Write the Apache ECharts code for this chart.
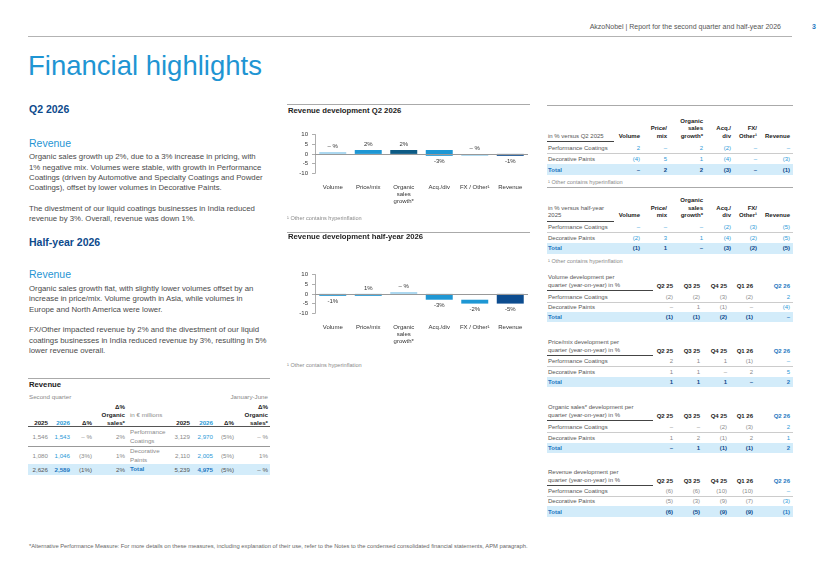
<!DOCTYPE html>
<html>
<head>
<meta charset="utf-8">
<title>Financial highlights</title>
<script src="https://cdn.jsdelivr.net/npm/echarts@6/dist/echarts.min.js"></script>
<style>
  body { margin: 0; background: #fff; }
  #page {
    position: relative; width: 820px; height: 580px; overflow: hidden;
    font-family: 'Liberation Sans', Arial, sans-serif; color: #4a4a4a;
  }
  .t { position: absolute; white-space: nowrap; }
  .rule { position: absolute; height: 0; }
  .band { position: absolute; background: #d3ecfa; }
  .chart { position: absolute; width: 250px; height: 100px; }
</style>
</head>
<body>
<div id="page">
  <div id="wfQ2" class="chart" style="left:285px;top:120px"></div>
  <div id="wfHy" class="chart" style="left:285px;top:260px"></div>
</div>
<script>
// ---- waterfall charts ----
const wfCategories = ['Volume', 'Price/mix', 'Organic\nsales\ngrowth*', 'Acq./div', 'FX / Other¹', 'Revenue']
const wfTotals = [false, false, true, false, false, true]
const q2Steps = [0, 2, 2, -3, 0, -1]
const hySteps = [-1, 1, 0, -3, -2, -5]

// ---- component tables (in %) ----
const compColumns = ['Volume', 'Price/\nmix', 'Organic\nsales\ngrowth*', 'Acq./\ndiv', 'FX/\nOther¹', 'Revenue']
const segments = ['Performance Coatings', 'Decorative Paints', 'Total']
const q2Pc = [2, 0, 2, -2, 0, 0]
const q2Dp = [-4, 5, 1, -4, 0, -3]
const q2Total = [0, 2, 2, -3, 0, -1]
const hyPc = [0, 0, 0, -2, -3, -5]
const hyDp = [-2, 3, 1, -4, -2, -5]
const hyTotal = [-1, 1, 0, -3, -2, -5]

// ---- quarterly tables (year-on-year, in %) ----
const quarters = ['Q2 25', 'Q3 25', 'Q4 25', 'Q1 26', 'Q2 26']
const volPc = [-2, -2, -3, -2, 2]
const volDp = [0, 1, -1, 0, -4]
const volTotal = [-1, -1, -2, -1, 0]
const pmPc = [2, 1, 1, -1, 0]
const pmDp = [1, 1, 0, 2, 5]
const pmTotal = [1, 1, 1, 0, 2]
const orgPc = [0, 0, -2, -3, 2]
const orgDp = [1, 2, -1, 2, 1]
const orgTotal = [0, 1, -1, -1, 2]
const revPc = [-6, -6, -10, -10, 0]
const revDp = [-5, -3, -9, -7, -3]
const revTotal = [-6, -5, -9, -9, -1]

// ---- revenue table (in € millions) ----
const revLabels = ['Performance\nCoatings', 'Decorative\nPaints', 'Total']
const q2Sales2025 = [1546, 1080, 2626]
const q2Sales2026 = [1543, 1046, 2589]
const q2SalesChange = [0, -3, -1]
const q2SalesOrganic = [2, 1, 2]
const hySales2025 = [3129, 2110, 5239]
const hySales2026 = [2970, 2005, 4975]
const hySalesChange = [-5, -5, -5]
const hySalesOrganic = [0, 1, 0]

const FONT = "'Liberation Sans', Arial, sans-serif"
const BLUE = '#1f95d3'
const NAVY = '#0d4a8c'
const VAL_BLUE = '#2b9ad7'
const TOTAL_BLUE = '#1f78c1'
const GREY = '#8a8a8a'

const page = document.getElementById('page')

const fmtPct = v => v === 0 ? '– %' : v < 0 ? '(' + (-v) + '%)' : v + '%'
const fmtNum = v => v === 0 ? '–' : v < 0 ? '(' + (-v) + ')' : String(v)
const fmtEur = v => v.toLocaleString('en-US')

// put text; y is the centre of the (last, or middle) line
function put(x, y, s, o = {}) {
  const lh = o.lh || 8
  const lines = String(s).split('\n')
  const d = document.createElement('div')
  d.className = 't'
  d.innerHTML = lines.join('<br>')
  let top = y - lh / 2
  if (o.up) top -= (lines.length - 1) * lh
  if (o.mid) top -= (lines.length - 1) * lh / 2
  d.style.top = top + 'px'
  d.style.lineHeight = lh + 'px'
  if (o.right) { d.style.right = (820 - x) + 'px'; d.style.textAlign = 'right' } else d.style.left = x + 'px'
  d.style.fontSize = (o.size || 6) + 'px'
  d.style.fontWeight = o.bold ? 'bold' : 'normal'
  d.style.color = o.color || '#4a4a4a'
  page.appendChild(d)
}
function rule(x1, x2, y, color, w) {
  const d = document.createElement('div')
  d.className = 'rule'
  Object.assign(d.style, { left: x1 + 'px', width: (x2 - x1) + 'px', top: y + 'px', borderTop: (w || 1) + 'px solid ' + color })
  page.appendChild(d)
}
function band(x1, x2, y1, y2) {
  const d = document.createElement('div')
  d.className = 'band'
  Object.assign(d.style, { left: x1 + 'px', width: (x2 - x1) + 'px', top: y1 + 'px', height: (y2 - y1) + 'px' })
  page.appendChild(d)
}

// ---- page header ----
put(781, 27, 'AkzoNobel | Report for the second quarter and half-year 2026', { right: true, size: 7, color: '#555' })
put(812, 27, '3', { size: 7, bold: true, color: TOTAL_BLUE })
rule(28, 792, 36, '#b3b3b3', 1.5)
put(28, 66, 'Financial highlights', { size: 27.5, lh: 32, color: BLUE })

// ---- left text column ----
const para = { size: 7.8, lh: 10.3, color: '#4a4a4a' }
put(29, 108.5, 'Q2 2026', { size: 10.5, lh: 12, bold: true, color: NAVY })
put(29, 142.7, 'Revenue', { size: 10.5, lh: 12, color: BLUE })
put(29, 157.5, 'Organic sales growth up 2%, due to a 3% increase in pricing, with\n1% negative mix. Volumes were stable, with growth in Performance\nCoatings (driven by Automotive and Specialty Coatings and Powder\nCoatings), offset by lower volumes in Decorative Paints.', para)
put(29, 208.7, 'The divestment of our liquid coatings businesses in India reduced\nrevenue by 3%. Overall, revenue was down 1%.', para)
put(29, 241.5, 'Half-year 2026', { size: 10.5, lh: 12, bold: true, color: NAVY })
put(29, 274.3, 'Revenue', { size: 10.5, lh: 12, color: BLUE })
put(29, 289.3, 'Organic sales growth flat, with slightly lower volumes offset by an\nincrease in price/mix. Volume growth in Asia, while volumes in\nEurope and North America were lower.', para)
put(29, 330.5, 'FX/Other impacted revenue by 2% and the divestment of our liquid\ncoatings businesses in India reduced revenue by 3%, resulting in 5%\nlower revenue overall.', para)

// ---- revenue table ----
rule(28, 270, 378, '#aaa', 1.5)
put(29, 384.5, 'Revenue', { size: 7.7, bold: true, color: '#222' })
put(29, 397, 'Second quarter', { size: 6.2, color: GREY })
put(268, 397, 'January-June', { right: true, size: 6.2, color: GREY })
const revCols = [
  { x: 48, head: '2025', vals: q2Sales2025.map(fmtEur), color: GREY },
  { x: 70, head: '2026', vals: q2Sales2026.map(fmtEur), color: VAL_BLUE, headColor: VAL_BLUE },
  { x: 92, head: 'Δ%', vals: q2SalesChange.map(fmtPct), color: GREY },
  { x: 125, head: 'Δ%\nOrganic\nsales*', vals: q2SalesOrganic.map(fmtPct), color: GREY },
  { x: 190, head: '2025', vals: hySales2025.map(fmtEur), color: GREY },
  { x: 213, head: '2026', vals: hySales2026.map(fmtEur), color: VAL_BLUE, headColor: VAL_BLUE },
  { x: 234, head: 'Δ%', vals: hySalesChange.map(fmtPct), color: GREY },
  { x: 268, head: 'Δ%\nOrganic\nsales*', vals: hySalesOrganic.map(fmtPct), color: GREY }
]
const revRowY = [436.5, 455.5, 469.5]
band(28, 270, 464, 474.5)
rule(28, 270, 426, '#555', 1)
rule(28, 270, 445.5, '#999', 1.3)
put(130, 414.5, 'in € millions', { size: 6.2, color: GREY })
revCols.forEach(c => {
  put(c.x, 422.5, c.head, { right: true, up: true, lh: 7.7, size: 6.2, bold: true, color: c.headColor || '#222' })
  c.vals.forEach((v, r) => {
    const total = r === 2
    put(c.x, revRowY[r], v, { right: true, size: 6.2, bold: total && c.color === VAL_BLUE, color: total && c.color !== VAL_BLUE ? '#555' : (total ? TOTAL_BLUE : c.color) })
  })
})
revLabels.forEach((l, r) => {
  const total = r === 2
  put(130, revRowY[r], l, { mid: true, lh: 8.5, size: 6.2, bold: total, color: total ? TOTAL_BLUE : GREY })
})

// ---- component tables ----
const compX = [640, 667, 703, 731, 757, 790]
function compTable(t) {
  rule(547, 793, t.top, '#aaa', 1.5)
  put(548, t.head, t.label, { up: true, lh: 7.6, size: 6, color: '#555' })
  compColumns.forEach((h, i) => put(compX[i], t.head, h, { right: true, up: true, lh: 7.6, size: 6, bold: true, color: '#222' }))
  rule(547, 614, t.head + 4.5, '#444', 1.2)
  band(547, 793, t.rows[2] - 5.3, t.rows[2] + 5.3)
  rule(547, 793, (t.rows[0] + t.rows[1]) / 2, '#ccc', 0.8)
  t.data.forEach((vals, r) => {
    const total = r === 2
    put(548, t.rows[r], segments[r], { size: 6, bold: total, color: total ? TOTAL_BLUE : '#555' })
    vals.forEach((v, i) => put(compX[i], t.rows[r], fmtNum(v), { right: true, size: 6, bold: total, color: total ? NAVY : VAL_BLUE }))
  })
  put(548, t.foot, '¹ Other contains hyperinflation', { size: 5.6, color: GREY })
}
compTable({ top: 105, head: 136.7, rows: [147.7, 158.7, 169.7], foot: 181.7, label: 'in % versus Q2 2025', data: [q2Pc, q2Dp, q2Total] })
compTable({ top: 187.3, head: 216, rows: [226.7, 237.5, 248.3], foot: 260.7, label: 'in % versus half-year\n2025', data: [hyPc, hyDp, hyTotal] })

// ---- quarterly tables ----
const qX = [673, 700, 727, 753, 790]
function quarterTable(t) {
  put(548, t.head, t.label, { up: true, lh: 7.7, size: 6, color: '#555' })
  quarters.forEach((q, i) => put(qX[i], t.head, q, { right: true, size: 6, bold: true, color: i === 4 ? TOTAL_BLUE : '#222' }))
  rule(547, 653, t.head + 4.3, '#444', 1.2)
  band(547, 793, t.rows[2] - 5.1, t.rows[2] + 5.1)
  rule(547, 793, (t.rows[0] + t.rows[1]) / 2, '#ccc', 0.8)
  t.data.forEach((vals, r) => {
    const total = r === 2
    put(548, t.rows[r], segments[r], { size: 6, bold: total, color: total ? TOTAL_BLUE : '#555' })
    vals.forEach((v, i) => {
      const last = i === 4
      put(qX[i], t.rows[r], fmtNum(v), { right: true, size: 6, bold: total, color: total ? (last ? TOTAL_BLUE : NAVY) : (last ? VAL_BLUE : GREY) })
    })
  })
}
quarterTable({ head: 286, rows: [296.7, 306.7, 316.7], label: 'Volume development per\nquarter (year-on-year) in %', data: [volPc, volDp, volTotal] })
quarterTable({ head: 350.7, rows: [361, 371.5, 382], label: 'Price/mix development per\nquarter (year-on-year) in %', data: [pmPc, pmDp, pmTotal] })
quarterTable({ head: 415.7, rows: [427, 437.5, 448], label: 'Organic sales* development per\nquarter (year-on-year) in %', data: [orgPc, orgDp, orgTotal] })
quarterTable({ head: 480.7, rows: [490.5, 501, 511.5], label: 'Revenue development per\nquarter (year-on-year) in %', data: [revPc, revDp, revTotal] })

// ---- chart titles and notes ----
rule(287, 530, 103.5, '#aaa', 1.5)
put(288, 111, 'Revenue development Q2 2026', { size: 7.7, bold: true, color: '#222' })
put(287, 218.3, '¹ Other contains hyperinflation', { size: 5.6, color: GREY })
rule(287, 530, 231.5, '#aaa', 1.5)
put(288, 237.3, 'Revenue development half-year 2026', { size: 7.7, bold: true, color: '#222' })
put(287, 364.7, '¹ Other contains hyperinflation', { size: 5.6, color: GREY })

// ---- footer ----
put(29, 546, '*Alternative Performance Measure: For more details on these measures, including explanation of their use, refer to the Notes to the condensed consolidated financial statements, APM paragraph.', { size: 5.8, color: '#666' })

// ---- waterfall drawing ----
const LIGHT = '#a3d4ef', MID = '#1e97d4', TEAL = '#0d5b85', DARK = '#0c4c8f'
const barColors = [MID, MID, TEAL, MID, MID, DARK]

function drawWaterfall(id, steps) {
  const chart = echarts.init(document.getElementById(id))
  let level = 0
  const data = steps.map((v, i) => {
    const start = wfTotals[i] ? 0 : level
    const end = start + v
    level = end
    return [i, start, end, v]
  })
  chart.setOption({
    animation: false,
    grid: { left: 30, right: 7, top: 14.5, height: 38.8 },
    xAxis: {
      type: 'category',
      data: wfCategories,
      axisLine: { show: false, onZero: false },
      axisTick: { show: false },
      axisLabel: { interval: 0, fontSize: 6, lineHeight: 7.3, color: '#333', margin: 10, fontFamily: FONT }
    },
    yAxis: {
      type: 'value', min: -10, max: 10, interval: 5,
      axisLine: { show: true, lineStyle: { color: '#999', width: 0.8 } },
      axisTick: { show: true, length: 3, lineStyle: { color: '#999', width: 0.8 } },
      splitLine: { show: false },
      axisLabel: { fontSize: 6, color: '#333', margin: 7, fontFamily: FONT }
    },
    series: [{
      type: 'custom',
      data: data,
      encode: { x: 0, y: [1, 2] },
      renderItem: (params, api) => {
        const i = api.value(0)
        const v = api.value(3)
        const lo = api.coord([i, Math.min(api.value(1), api.value(2))])
        const hi = api.coord([i, Math.max(api.value(1), api.value(2))])
        const w = api.size([1, 0])[0] * 0.76
        let top = hi[1]
        let h = lo[1] - hi[1]
        if (h < 1.8) { top = lo[1] - 1.8; h = 1.8 }
        const label = v === 0 ? '– %' : v + '%'
        const above = v >= 0
        return {
          type: 'group',
          children: [
            { type: 'rect', shape: { x: lo[0] - w / 2, y: top, width: w, height: h }, style: { fill: v === 0 ? LIGHT : barColors[i] } },
            {
              type: 'text',
              x: lo[0], y: above ? top - 2.5 : lo[1] + 3,
              style: { text: label, fontSize: 6, fontFamily: FONT, fill: '#333', align: 'center', verticalAlign: above ? 'bottom' : 'top' }
            }
          ]
        }
      },
      markLine: {
        silent: true, symbol: 'none', label: { show: false },
        lineStyle: { color: '#999', width: 1, type: 'solid' },
        data: [{ yAxis: 0 }]
      }
    }]
  })
}
drawWaterfall('wfQ2', q2Steps)
drawWaterfall('wfHy', hySteps)
</script>
</body>
</html>
